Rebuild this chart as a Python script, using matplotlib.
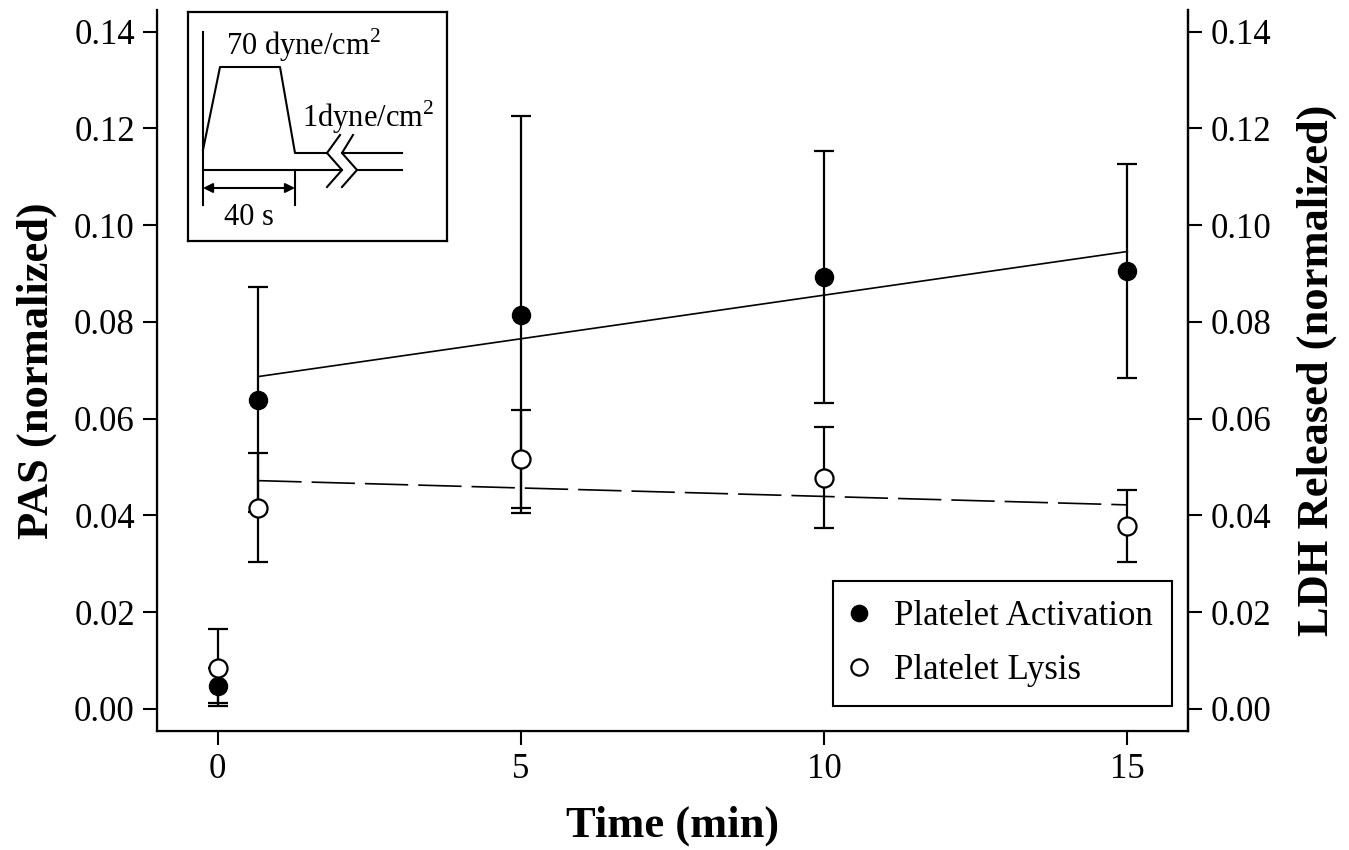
import numpy as np
import matplotlib
matplotlib.use("Agg")
import matplotlib.pyplot as plt

plt.rcParams['font.family'] = ['Liberation Serif', 'DejaVu Serif']
plt.rcParams['mathtext.fontset'] = 'custom'
plt.rcParams['mathtext.rm'] = 'Liberation Serif'

# data
time = [0, 0.67, 5, 10, 15]
pas = [0.0048, 0.0639, 0.0815, 0.0893, 0.0906]
pas_err = [0.0036, 0.0233, 0.0410, 0.0260, 0.0221]
ldh = [0.0085, 0.0416, 0.0517, 0.0478, 0.0378]
ldh_err = [0.0080, 0.0113, 0.0101, 0.0104, 0.0075]

yticks = [0.00, 0.02, 0.04, 0.06, 0.08, 0.10, 0.12, 0.14]
xticks = [0, 5, 10, 15]

W, H = 1349, 850
fig = plt.figure(figsize=(W / 100, H / 100), dpi=100)
ax = fig.add_axes([157 / W, 1 - 731 / H, (1188 - 157) / W, (731 - 10) / H])

# linear fits over the sheared points (t > 0)
tf = np.array(time[1:])
p_fit = np.polyfit(tf, pas[1:], 1)
l_fit = np.polyfit(tf, ldh[1:], 1)
xx = np.array([tf.min(), tf.max()])
ax.plot(xx, np.polyval(p_fit, xx), 'k-', lw=1.2, zorder=2)
ax.plot(xx, np.polyval(l_fit, xx), 'k-', lw=1.2, dashes=(26, 6), zorder=2)

ax.errorbar(time, pas, yerr=pas_err, fmt='o', color='k', mfc='k', mec='k',
            ms=13, capsize=7.5, capthick=1.6, elinewidth=1.6, zorder=3,
            label='Platelet Activation')
ax.errorbar(time, ldh, yerr=ldh_err, fmt='o', color='k', mfc='white', mec='k',
            ms=13, mew=1.6, capsize=7.5, capthick=1.6, elinewidth=1.6, zorder=4,
            label='Platelet Lysis')

ax.set_xlim(-1, 16)
ax.set_ylim(-0.0046, 0.1445)
ax.set_xticks(xticks)
ax.set_yticks(yticks)
ax.set_yticklabels([f'{v:.2f}' for v in yticks])
ax.tick_params(direction='out', length=10, width=1.5, labelsize=25, pad=6)
for s in ['left', 'right', 'bottom']:
    ax.spines[s].set_linewidth(1.6)
ax.spines['top'].set_visible(False)

ax.set_xlabel('Time (min)', fontsize=32, fontweight='bold', labelpad=14)
ax.set_ylabel('PAS (normalized)', fontsize=32, fontweight='bold', labelpad=12)

ax2 = ax.twinx()
ax2.set_ylim(ax.get_ylim())
ax2.set_yticks(yticks)
ax2.set_yticklabels([f'{v:.2f}' for v in yticks])
ax2.tick_params(direction='out', length=10, width=1.5, labelsize=25, pad=6)
ax2.spines['right'].set_linewidth(1.6)
ax2.spines['top'].set_visible(False)
ax2.set_ylabel('LDH Released (normalized)', fontsize=32, fontweight='bold',
               labelpad=18)

h, lab = ax.get_legend_handles_labels()
h = [hh[0] for hh in h]
leg = ax.legend(h, lab, loc='lower right', bbox_to_anchor=(0.9845, 0.035),
                borderaxespad=0, fontsize=25, frameon=True, fancybox=False,
                framealpha=1, edgecolor='k', handlelength=0.4,
                handletextpad=0.8, borderpad=0.55, labelspacing=0.6,
                markerscale=0.9)
leg.get_frame().set_linewidth(1.5)

# inset: shear stress waveform schematic (figure pixel coords)
ins = fig.add_axes([188 / W, 1 - 241 / H, 259 / W, 229 / H])
ins.set_xlim(188, 447)
ins.set_ylim(241, 12)
ins.set_xticks([])
ins.set_yticks([])
for s in ins.spines.values():
    s.set_linewidth(1.6)

schematic = [
    [(203, 32), (203, 205)],
    [(203, 150), (220, 67), (280, 67), (295, 153), (327, 153)],
    [(342, 153), (402, 153)],
    [(203, 170), (342, 170)],
    [(357, 170), (402, 170)],
    [(340, 135), (327, 153), (342, 170), (327, 187)],
    [(353, 135), (342, 153), (357, 170), (342, 187)],
    [(295, 170), (295, 205)],
]
for seg in schematic:
    sx, sy = zip(*seg)
    ins.plot(sx, sy, 'k-', lw=1.5)
ins.annotate('', xy=(203, 188), xytext=(295, 188),
             arrowprops=dict(arrowstyle='<|-|>', color='k', lw=1.5,
                             shrinkA=0, shrinkB=0, mutation_scale=14))
ins.text(226, 45, r'70 dyne/cm$^{2}$', fontsize=22, va='center', ha='left')
ins.text(302, 117, r'1dyne/cm$^{2}$', fontsize=22, va='center', ha='left')
ins.text(224, 218, '40 s', fontsize=22, va='center', ha='left')

fig.savefig('out.png', dpi=100)
